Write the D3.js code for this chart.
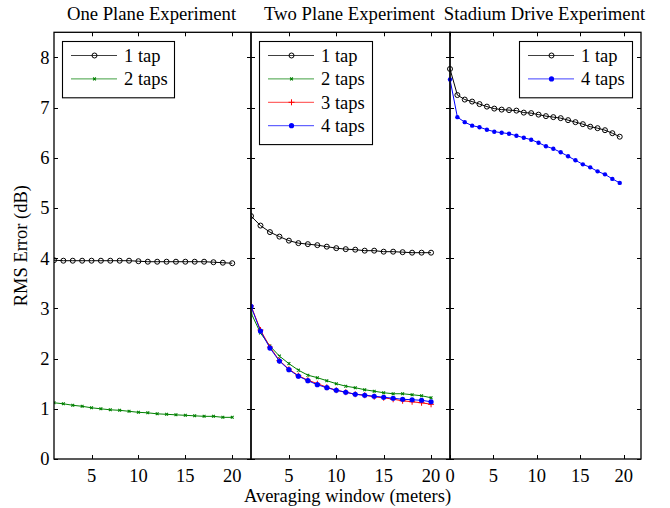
<!DOCTYPE html>
<html><head><meta charset="utf-8">
<script src="https://cdn.jsdelivr.net/npm/d3@7"></script>
<style>body{margin:0;background:#fff}svg{display:block}text{font-family:"Liberation Serif","Times New Roman",serif;fill:#000}</style>
</head><body><svg id="c" width="670" height="508"></svg>
<script>
// ---- data ----
const panelTitles = ["One Plane Experiment", "Two Plane Experiment", "Stadium Drive Experiment"];
const yTicks = [0, 1, 2, 3, 4, 5, 6, 7, 8];
const xTicks12 = [5, 10, 15, 20];
const xTicks3 = [0, 5, 10, 15, 20];
const yLabel = "RMS Error (dB)";
const xLabel = "Averaging window (meters)";

const p1X = [1,2,3,4,5,6,7,8,9,10,11,12,13,14,15,16,17,18,19,20];
const p1Tap1 = [3.96,3.95,3.95,3.95,3.95,3.95,3.95,3.95,3.95,3.94,3.93,3.93,3.93,3.93,3.93,3.93,3.93,3.92,3.91,3.90];
const p1Tap2 = [1.12,1.10,1.07,1.05,1.02,1.00,0.98,0.97,0.95,0.93,0.92,0.90,0.89,0.88,0.87,0.86,0.85,0.85,0.83,0.83];

const p2X = [1,2,3,4,5,6,7,8,9,10,11,12,13,14,15,16,17,18,19,20];
const p2Tap1 = [4.84,4.65,4.52,4.43,4.35,4.30,4.28,4.26,4.23,4.20,4.18,4.17,4.15,4.15,4.13,4.13,4.12,4.11,4.11,4.11];
const p2Tap2 = [2.91,2.51,2.25,2.05,1.90,1.77,1.67,1.62,1.56,1.50,1.45,1.42,1.38,1.35,1.32,1.30,1.30,1.28,1.26,1.22];
const p2Tap3 = [3.05,2.57,2.23,1.96,1.79,1.66,1.57,1.50,1.43,1.37,1.33,1.29,1.27,1.24,1.22,1.19,1.16,1.14,1.12,1.09];
const p2Tap4 = [3.04,2.55,2.21,1.95,1.78,1.65,1.56,1.48,1.42,1.37,1.33,1.29,1.27,1.25,1.23,1.21,1.19,1.18,1.17,1.14];

const p3X = [0,0.85,1.7,2.55,3.4,4.25,5.1,5.95,6.8,7.65,8.5,9.35,10.2,11.05,11.9,12.75,13.6,14.45,15.3,16.15,17.0,17.85,18.7,19.55];
const p3Tap1 = [7.77,7.25,7.16,7.12,7.07,7.02,6.98,6.96,6.95,6.94,6.90,6.89,6.86,6.83,6.81,6.79,6.75,6.71,6.67,6.62,6.59,6.55,6.49,6.42];
const p3Tap4 = [7.56,6.81,6.71,6.64,6.61,6.56,6.52,6.50,6.48,6.44,6.40,6.36,6.30,6.23,6.18,6.11,6.03,5.95,5.87,5.81,5.73,5.67,5.58,5.50];

const seriesStyle = {
  "1 tap": {color: "#000000", marker: "circle"},
  "2 taps": {color: "#008000", marker: "x"},
  "3 taps": {color: "#ff0000", marker: "plus"},
  "4 taps": {color: "#0000ff", marker: "dot"}
};

const panels = [
  {x0: 54, x1: 251, domain: [1, 22], ticks: xTicks12, clip: true, dotR: 2.6, legend: {x: 62, w: 112},
   series: [["1 tap", p1X, p1Tap1], ["2 taps", p1X, p1Tap2]]},
  {x0: 251, x1: 450, domain: [1, 22], ticks: xTicks12, clip: true, dotR: 2.6, legend: {x: 259, w: 113},
   series: [["1 tap", p2X, p2Tap1], ["2 taps", p2X, p2Tap2], ["3 taps", p2X, p2Tap3], ["4 taps", p2X, p2Tap4]]},
  {x0: 450, x1: 641, domain: [0, 22], ticks: xTicks3, clip: false, dotR: 2.2, legend: {x: 519, w: 113},
   series: [["1 tap", p3X, p3Tap1], ["4 taps", p3X, p3Tap4]]}
];

// ---- drawing ----
const svg = d3.select("#c");
const yTop = 32.3, yBot = 459;
const y = d3.scaleLinear().domain([0, 8.5]).range([yBot, yTop]);
const FS = 18.5, TL = 4;

function marker(g, type, cx, cy, color, r) {
  if (type === "circle") {
    g.append("circle").attr("cx", cx).attr("cy", cy).attr("r", 2.5).attr("fill", "none").attr("stroke", color).attr("stroke-width", 1);
  } else if (type === "x") {
    const s = 1.4;
    g.append("path").attr("d", `M${cx-s},${cy-s}L${cx+s},${cy+s}M${cx-s},${cy+s}L${cx+s},${cy-s}`).attr("stroke", color).attr("stroke-width", 1.1).attr("fill", "none");
  } else if (type === "plus") {
    const s = 3;
    g.append("path").attr("d", `M${cx-s},${cy}L${cx+s},${cy}M${cx},${cy-s}L${cx},${cy+s}`).attr("stroke", color).attr("stroke-width", 1).attr("fill", "none");
  } else {
    g.append("circle").attr("cx", cx).attr("cy", cy).attr("r", r).attr("fill", color).attr("stroke", "none");
  }
}

panels.forEach((p, i) => {
  const x = d3.scaleLinear().domain(p.domain).range([p.x0, p.x1]);
  const g = svg.append("g");
  const clipId = "clip" + i;
  svg.append("clipPath").attr("id", clipId).append("rect")
    .attr("x", p.x0).attr("y", yTop).attr("width", p.x1 - p.x0).attr("height", yBot - yTop);

  const tg = g.append("g").attr("stroke", "#000").attr("stroke-width", 1);
  p.ticks.forEach(t => {
    const xx = Math.round(x(t)) + 0.5;
    tg.append("line").attr("x1", xx).attr("x2", xx).attr("y1", yBot).attr("y2", yBot - TL);
    tg.append("line").attr("x1", xx).attr("x2", xx).attr("y1", yTop).attr("y2", yTop + TL);
    g.append("text").attr("x", x(t)).attr("y", yBot + 22.5).attr("text-anchor", "middle").attr("font-size", FS).text(t);
  });
  yTicks.forEach(t => {
    const yy = Math.round(y(t)) + 0.5;
    tg.append("line").attr("x1", p.x0).attr("x2", p.x0 + TL).attr("y1", yy).attr("y2", yy);
    tg.append("line").attr("x1", p.x1).attr("x2", p.x1 - TL).attr("y1", yy).attr("y2", yy);
    if (i === 0) g.append("text").attr("x", p.x0 - 4.5).attr("y", y(t) + 6.3).attr("text-anchor", "end").attr("font-size", FS).text(t);
  });

  const dg = g.append("g");
  if (p.clip) dg.attr("clip-path", `url(#${clipId})`);
  const line = d3.line().x(d => x(d[0])).y(d => y(d[1]));
  p.series.forEach(([name, xs, ys]) => {
    const st = seriesStyle[name];
    const pts = xs.map((v, k) => [v, ys[k]]);
    dg.append("path").attr("d", line(pts)).attr("fill", "none").attr("stroke", st.color).attr("stroke-width", 1);
    pts.forEach(d => marker(dg, st.marker, x(d[0]), y(d[1]), st.color, p.dotR));
  });

  g.append("rect").attr("x", p.x0).attr("y", yTop).attr("width", p.x1 - p.x0).attr("height", yBot - yTop)
    .attr("fill", "none").attr("stroke", "#000").attr("stroke-width", 1.3);

  svg.append("text").attr("x", (p.x0 + p.x1) / 2 - 1).attr("y", 20).attr("text-anchor", "middle").attr("font-size", 18.7).text(panelTitles[i]);

  const lg = svg.append("g");
  const n = p.series.length, lh = 23.4;
  const lx = p.legend.x, ly = 41, lw = p.legend.w, lhgt = 10.5 + n * lh - 1;
  lg.append("rect").attr("x", lx + 0.5).attr("y", ly + 0.5).attr("width", lw).attr("height", lhgt)
    .attr("fill", "#fff").attr("stroke", "#000").attr("stroke-width", 1.1);
  p.series.forEach(([name], k) => {
    const st = seriesStyle[name];
    const cy = ly + 14.5 + k * lh;
    lg.append("line").attr("x1", lx + 9).attr("x2", lx + 55).attr("y1", cy).attr("y2", cy)
      .attr("stroke", st.color).attr("stroke-width", 1).attr("stroke-opacity", 0.75);
    marker(lg, st.marker, lx + 32.5, cy, st.color, 2.6);
    lg.append("text").attr("x", lx + 62).attr("y", cy + 6.3).attr("font-size", FS).text(name);
  });
});

svg.append("text").attr("x", (54 + 641) / 2).attr("y", 501.5).attr("text-anchor", "middle").attr("font-size", FS).text(xLabel);
svg.append("text").attr("transform", `translate(27,${(yTop + yBot) / 2}) rotate(-90)`).attr("text-anchor", "middle").attr("font-size", FS).text(yLabel);
</script></body></html>
